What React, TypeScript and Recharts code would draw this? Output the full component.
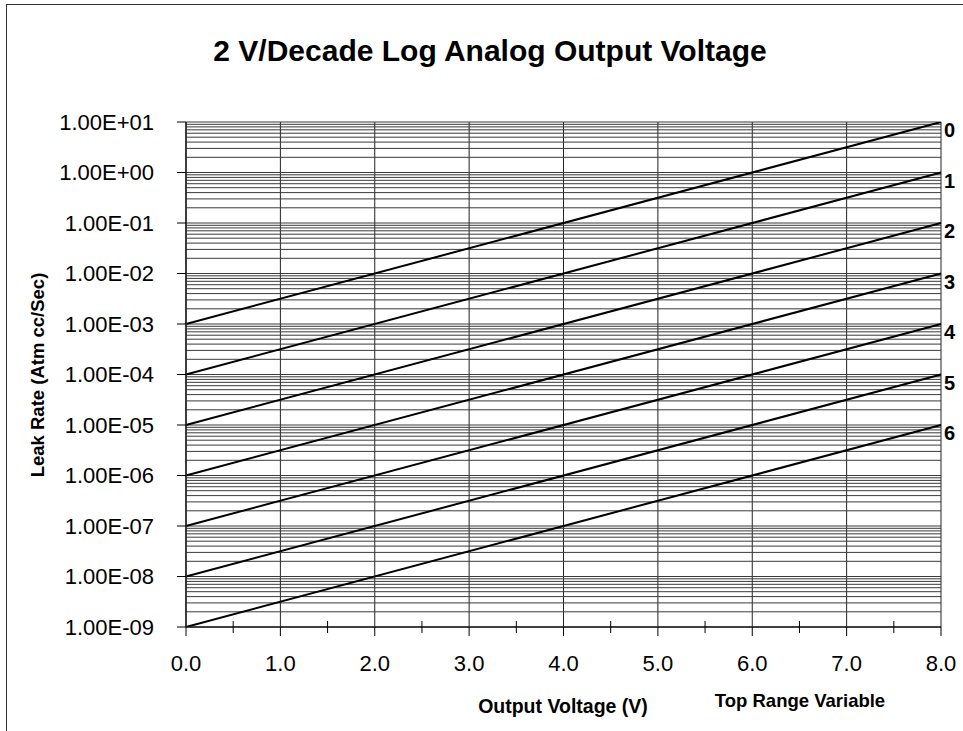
import { LineChart, Line, XAxis, YAxis, CartesianGrid, ReferenceLine } from "recharts";

const FONT = "'Liberation Sans', Arial, Helvetica, sans-serif";

// output voltage (V) at the two ends of each range line
const voltages = [0, 8];

// leak rate (atm cc/sec) for each top range variable, at 0 V and 8 V
const range0 = [1e-3, 1e1];
const range1 = [1e-4, 1e0];
const range2 = [1e-5, 1e-1];
const range3 = [1e-6, 1e-2];
const range4 = [1e-7, 1e-3];
const range5 = [1e-8, 1e-4];
const range6 = [1e-9, 1e-5];

const rangeNames = ["0", "1", "2", "3", "4", "5", "6"];
const rangeValues = [range0, range1, range2, range3, range4, range5, range6];

const decadeTicks = [1e-9, 1e-8, 1e-7, 1e-6, 1e-5, 1e-4, 1e-3, 1e-2, 1e-1, 1e0, 1e1];
const gridMultipliers = [1, 2, 3, 4, 5, 6, 7, 8, 9];
const voltageTicks = [0, 1, 2, 3, 4, 5, 6, 7, 8];
const allVoltageTicks = [0, 0.5, 1, 1.5, 2, 2.5, 3, 3.5, 4, 4.5, 5, 5.5, 6, 6.5, 7, 7.5, 8];

const data = voltages.map((v, i) => {
  const row: Record<string, number> = { v };
  rangeNames.forEach((name, k) => {
    row["r" + name] = rangeValues[k][i];
  });
  return row;
});

// log grid: 1..9 within every decade
const minorGrid = decadeTicks
  .slice(0, -1)
  .flatMap((d) => gridMultipliers.map((m) => d * m))
  .concat([decadeTicks[decadeTicks.length - 1]]);

function sci(v: number) {
  const [m, e] = v.toExponential(2).split("e");
  const sign = e[0];
  const digits = e.slice(1).padStart(2, "0");
  return `${m}E${sign}${digits}`;
}

const endLabel = (name: string) => (props: any) => {
  const { x, y, index } = props;
  if (index !== voltages.length - 1) return <g />;
  return (
    <text
      x={x + 3}
      y={y + 15}
      fontFamily={FONT}
      fontSize={20}
      fontWeight="bold"
      fill="#000"
    >
      {name}
    </text>
  );
};

const X_TICK = 9;
const X_GAP = 19;

// major ticks hang below the axis with a label, half-volt ticks cross it
function VoltTick(props: any) {
  const { x, y, payload } = props;
  const axisY = y - X_TICK - X_GAP;
  const v = payload.value as number;
  const major = Number.isInteger(v);
  return (
    <g>
      <line
        x1={x}
        x2={x}
        y1={major ? axisY : axisY - 6}
        y2={major ? axisY + X_TICK : axisY + 6}
        stroke="#000"
        strokeWidth={1}
      />
      {major && (
        <text
          x={x}
          y={y}
          dy="0.71em"
          textAnchor="middle"
          fontSize={22}
          fontFamily={FONT}
          fill="#000"
        >
          {v.toFixed(1)}
        </text>
      )}
    </g>
  );
}

const tickStyle = { fontSize: 22, fill: "#000", fontFamily: FONT };

export default function App() {
  return (
    <div
      style={{
        position: "fixed",
        left: 0,
        top: 0,
        width: 963,
        height: 731,
        overflow: "hidden",
        background: "#fff",
      }}
    >
      <div
        style={{
          position: "absolute",
          left: 6,
          top: 4,
          width: 1000,
          height: 800,
          border: "1.5px solid #333",
        }}
      />
      <div style={{ position: "absolute", left: 0, top: 0 }}>
        <LineChart
          width={963}
          height={731}
          data={data}
          margin={{ top: 122, right: 22, bottom: 64, left: 6 }}
        >
          <CartesianGrid
            horizontal={false}
            verticalValues={voltageTicks}
            stroke="#222"
            strokeWidth={1}
          />
          {minorGrid.map((g) => (
            <ReferenceLine key={g} y={g} stroke="#3a3a3a" strokeWidth={1} />
          ))}
          <XAxis
            dataKey="v"
            type="number"
            domain={[0, 8]}
            ticks={allVoltageTicks}
            interval={0}
            tick={<VoltTick />}
            tickSize={X_TICK}
            tickMargin={X_GAP}
            tickLine={false}
            height={40}
            axisLine={{ stroke: "#222", strokeWidth: 1.5 }}
          />
          <YAxis
            scale="log"
            domain={[1e-9, 1e1]}
            allowDataOverflow
            ticks={decadeTicks}
            tickFormatter={sci}
            tick={tickStyle}
            tickSize={9}
            tickMargin={23}
            width={180}
            axisLine={{ stroke: "#222", strokeWidth: 1.5 }}
            tickLine={{ stroke: "#000" }}
          />
          {rangeNames.map((name) => (
            <Line
              key={name}
              dataKey={"r" + name}
              stroke="#000"
              strokeWidth={2}
              dot={false}
              isAnimationActive={false}
              label={endLabel(name)}
            />
          ))}
        </LineChart>
      </div>
      <svg
        width={963}
        height={731}
        style={{ position: "absolute", left: 0, top: 0, pointerEvents: "none" }}
        fontFamily={FONT}
        fontWeight="bold"
        fill="#000"
      >
        <text x={490} y={61} fontSize={30} textAnchor="middle">
          2 V/Decade Log Analog Output Voltage
        </text>
        <text transform="translate(44,375) rotate(-90)" fontSize={18.5} textAnchor="middle">
          Leak Rate (Atm cc/Sec)
        </text>
        <text x={563} y={713} fontSize={19.5} textAnchor="middle">
          Output Voltage (V)
        </text>
        <text x={800} y={707} fontSize={18.5} textAnchor="middle">
          Top Range Variable
        </text>
      </svg>
    </div>
  );
}
